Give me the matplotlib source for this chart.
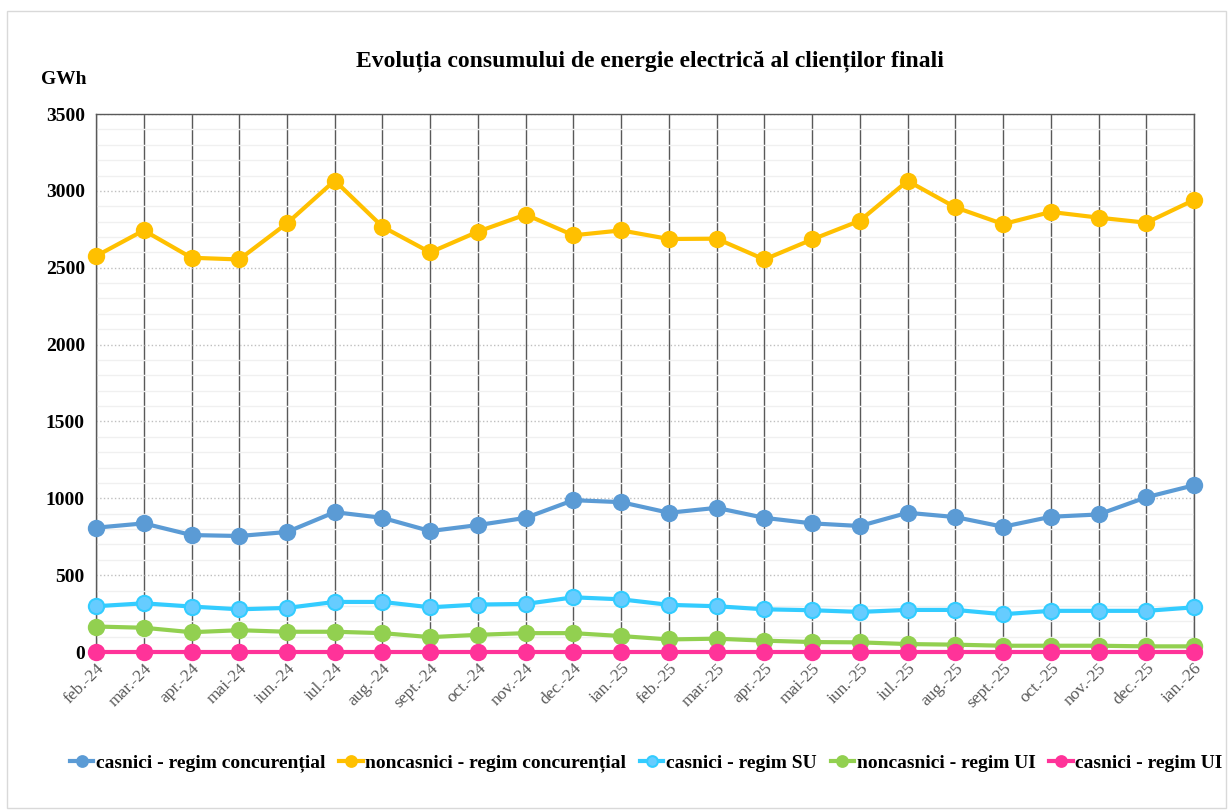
import matplotlib.pyplot as plt
from matplotlib.patches import Rectangle

months = ['feb.-24', 'mar.-24', 'apr.-24', 'mai-24', 'iun.-24', 'iul.-24',
          'aug.-24', 'sept.-24', 'oct.-24', 'nov.-24', 'dec.-24', 'ian.-25',
          'feb.-25', 'mar.-25', 'apr.-25', 'mai-25', 'iun.-25', 'iul.-25',
          'aug.-25', 'sept.-25', 'oct.-25', 'nov.-25', 'dec.-25', 'ian.-26']

casnici_conc = [809, 837, 761, 755, 781, 910, 873, 787, 826, 873, 988, 975,
                906, 938, 873, 837, 820, 906, 878, 815, 880, 895, 1007, 1085]
noncasnici_conc = [2576, 2743, 2565, 2554, 2789, 3067, 2767, 2600, 2735, 2846, 2711, 2743,
                   2687, 2689, 2554, 2684, 2806, 3065, 2893, 2784, 2863, 2826, 2793, 2941]
casnici_su = [298, 317, 296, 278, 287, 326, 326, 291, 309, 313, 356, 343,
              307, 298, 278, 272, 261, 274, 274, 246, 268, 268, 268, 291]
noncasnici_ui = [166, 158, 129, 142, 132, 132, 123, 97, 112, 123, 123, 104,
                 82, 87, 74, 65, 63, 52, 48, 41, 41, 41, 37, 37]
casnici_ui = [1] * 24

plt.rcParams['font.family'] = ['Liberation Serif', 'DejaVu Serif']

fig = plt.figure(figsize=(12.31, 8.11), dpi=100)
ax = fig.add_axes([0.078, 0.196, 0.892, 0.6634])

x = list(range(len(months)))
series = [
    (casnici_conc, 'casnici - regim concurențial', '#5B9BD5', '#5B9BD5'),
    (noncasnici_conc, 'noncasnici - regim concurențial', '#FFC000', '#FFC000'),
    (casnici_su, 'casnici - regim SU', '#33CCFF', '#66CCFF'),
    (noncasnici_ui, 'noncasnici - regim UI', '#92D050', '#92D050'),
    (casnici_ui, 'casnici - regim UI', '#FF3399', '#FF3399'),
]
for vals, lab, col, face in series:
    ax.plot(x, vals, color=col, linewidth=3, marker='o', markersize=11,
            markerfacecolor=face, markeredgecolor=col, markeredgewidth=1.5,
            label=lab, zorder=3, clip_on=False)

ax.set_xlim(0, len(months) - 1)
ax.set_ylim(0, 3500)
ax.set_yticks(range(0, 3501, 500))
ax.set_yticks(range(0, 3501, 100), minor=True)
ax.tick_params(axis='y', which='both', length=0, pad=8, labelsize=14)
for t in ax.get_yticklabels():
    t.set_fontweight('bold')

ax.set_xticks(x)
ax.set_xticklabels(months, rotation=45, ha='right', rotation_mode='anchor',
                   color='#595959', fontsize=12.5)
ax.tick_params(axis='x', length=0, pad=6)

ax.grid(axis='y', which='minor', color='#F0F0F0', linewidth=1, zorder=0)
ax.grid(axis='y', which='major', color='#BFBFBF', linewidth=1, linestyle=':', zorder=0)
ax.grid(axis='x', which='major', color='#595959', linewidth=1, zorder=1)
for s in ax.spines.values():
    s.set_color('#595959')
    s.set_linewidth(1)
ax.spines['bottom'].set_visible(False)

fig.text(0.528, 0.924, 'Evoluția consumului de energie electrică al clienților finali',
         ha='center', va='center', fontsize=17, fontweight='bold')
fig.text(0.033, 0.902, 'GWh', ha='left', va='center', fontsize=14, fontweight='bold')

fig.legend(loc='center', bbox_to_anchor=(0.525, 0.059), ncol=5, frameon=False,
           prop={'weight': 'bold', 'size': 14}, markerscale=0.7,
           handlelength=1.2, columnspacing=0.7, handletextpad=0.15)

fig.patches.append(Rectangle((0.006, 0.004), 0.99, 0.982, transform=fig.transFigure,
                             fill=False, edgecolor='#D9D9D9', linewidth=1))

fig.savefig('out.png', dpi=100)
